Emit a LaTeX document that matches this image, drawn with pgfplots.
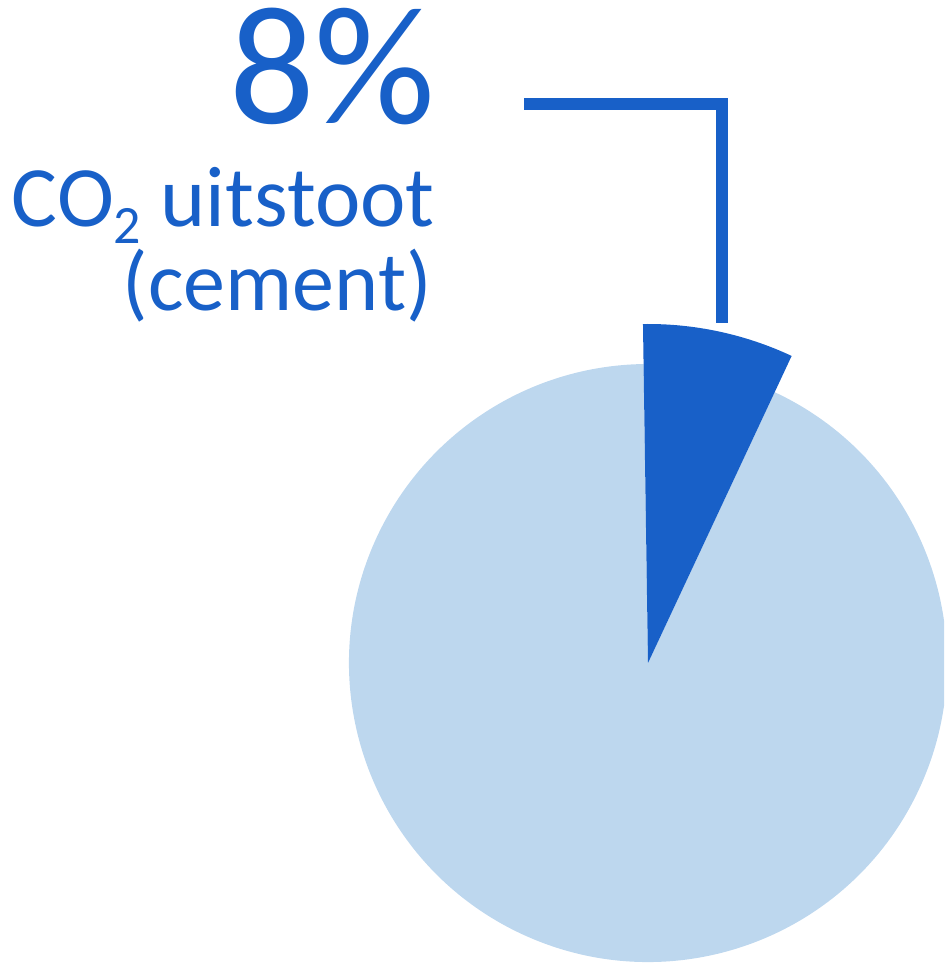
\documentclass[border=0pt]{standalone}
\usepackage{pgfplots}
\pgfplotsset{compat=1.18}
\usepackage{pgfplotstable}
\usepackage{fontspec}
\setmainfont{Carlito}
\definecolor{darkblue}{HTML}{1860C8}
\definecolor{lightblue}{HTML}{BDD7EE}

% pie data: share (percent of the circle), outer radius (in axis units = px)
\pgfplotstableread{
label  share radius
cement 7.2   339
rest   92.8  299
}\piedata

\begin{document}
\begin{tikzpicture}
\useasboundingbox (0,0) rectangle (472pt,481.5pt);
\begin{axis}[
  x=0.5pt, y=0.5pt,
  xmin=0, xmax=944, ymin=0, ymax=963,
  hide axis, clip=true, anchor=origin, at={(0,0)},
]
\pgfplotstablegetelem{0}{share}\of\piedata \let\shareA\pgfplotsretval
\pgfplotstablegetelem{0}{radius}\of\piedata \let\radA\pgfplotsretval
\pgfplotstablegetelem{1}{share}\of\piedata \let\shareB\pgfplotsretval
\pgfplotstablegetelem{1}{radius}\of\piedata \let\radB\pgfplotsretval
\pgfmathsetmacro{\startA}{90.85}
\pgfmathsetmacro{\endA}{\startA-3.6*\shareA}
\pgfmathsetmacro{\endB}{\endA-3.6*\shareB}
\pgfmathsetmacro{\rA}{0.5*\radA}
\pgfmathsetmacro{\rB}{0.5*\radB}
% light slice
\fill[lightblue] (axis cs:648,300) -- ++(\endA:\rB pt)
   arc[start angle=\endA, end angle=\endB, radius=\rB pt] -- cycle;
% dark slice
\fill[darkblue] (axis cs:648,300) -- ++(\startA:\rA pt)
   arc[start angle=\startA, end angle=\endA, radius=\rA pt] -- cycle;
% leader line
\addplot[darkblue, line width=6pt, line join=miter, line cap=butt]
  coordinates {(524,859.2) (721.8,859.2) (721.8,639.7)};
% labels
\node[anchor=base east, inner sep=0pt, text=darkblue, font=\fontsize{84.5}{84.5}\selectfont]
  at (axis cs:436,839) {8\%};
\node[anchor=base east, inner sep=0pt, text=darkblue, font=\fontsize{43}{43}\selectfont]
  at (axis cs:435,736) {CO\raisebox{-8.5pt}{\fontsize{27}{27}\selectfont 2} uitstoot};
\node[anchor=base east, inner sep=0pt, text=darkblue, font=\fontsize{42}{42}\selectfont]
  at (axis cs:432,652) {(cement)};
\end{axis}
\end{tikzpicture}
\end{document}
